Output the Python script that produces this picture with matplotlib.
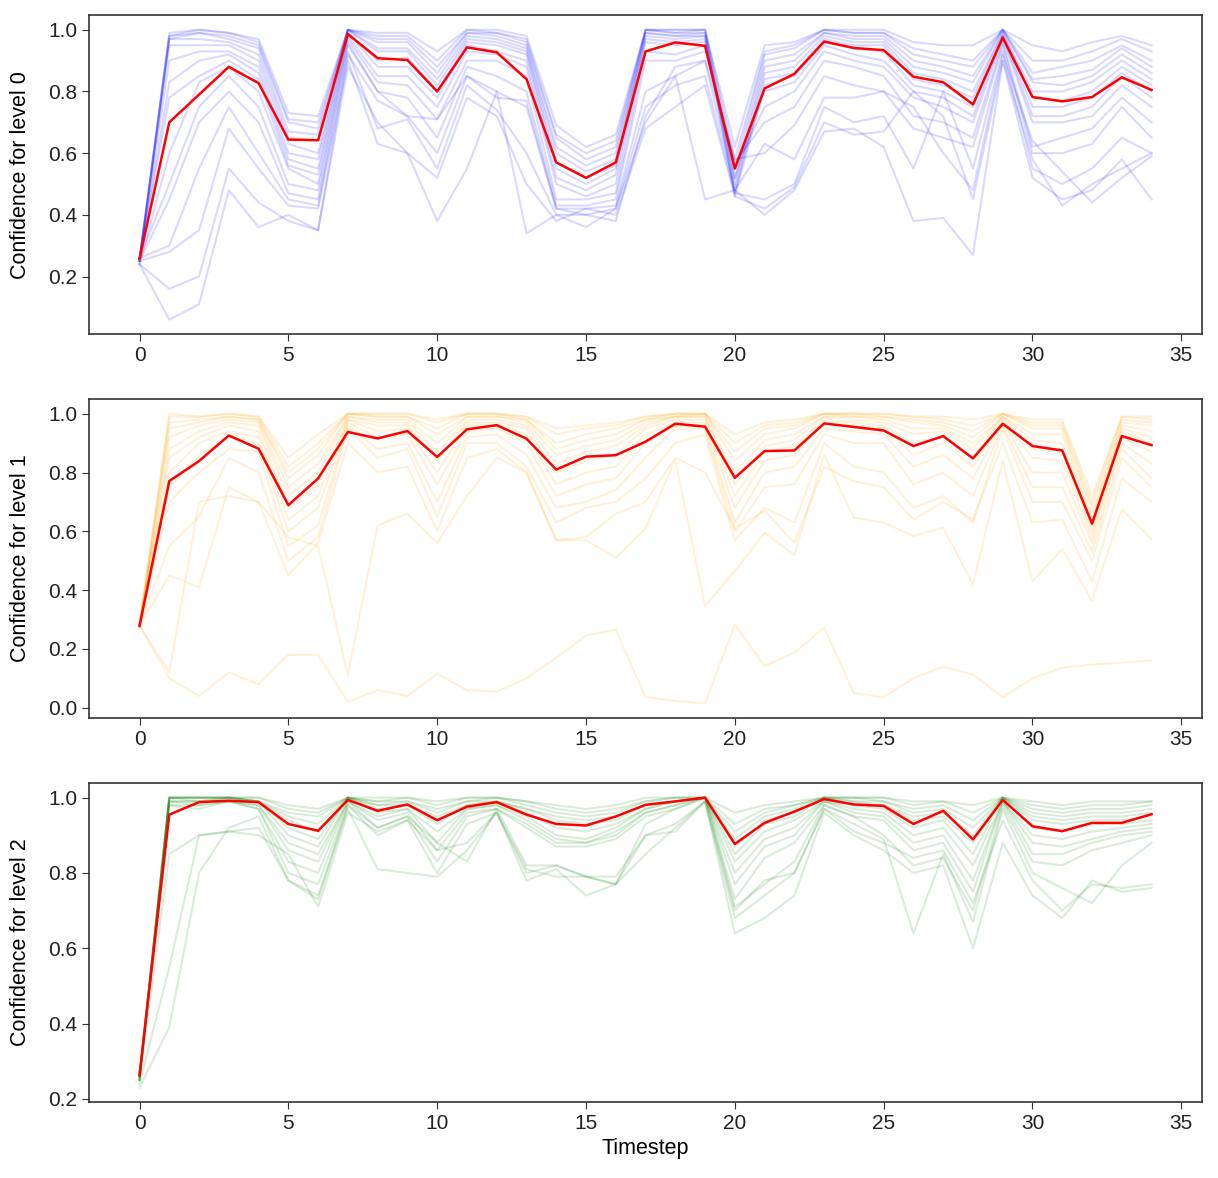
import numpy as np
import matplotlib
matplotlib.use("Agg")
import matplotlib.pyplot as plt

plt.rcParams['font.family'] = ['Liberation Sans', 'DejaVu Sans']
plt.rcParams['font.size'] = 15
plt.rcParams['axes.labelsize'] = 15.5
plt.rcParams['xtick.major.size'] = 5
plt.rcParams['ytick.major.size'] = 5

timesteps = np.arange(35)

# level 0 runs
level0_runs = [
    [0.25,0.99,1.00,0.99,0.97,0.73,0.72,1.00,0.99,0.99,0.93,1.00,1.00,0.98,0.69,0.62,0.66,1.00,1.00,1.00,0.62,0.95,0.96,1.00,1.00,1.00,0.96,0.95,0.95,1.00,0.95,0.93,0.96,0.98,0.95],
    [0.25,0.98,1.00,0.99,0.96,0.71,0.70,1.00,0.98,0.98,0.90,1.00,0.99,0.97,0.66,0.60,0.64,1.00,1.00,1.00,0.58,0.93,0.95,1.00,0.99,0.99,0.94,0.92,0.90,1.00,0.90,0.90,0.93,0.97,0.93],
    [0.26,0.98,0.99,0.98,0.95,0.70,0.68,1.00,0.97,0.97,0.88,0.99,0.99,0.96,0.65,0.58,0.62,1.00,0.99,1.00,0.55,0.92,0.94,1.00,0.99,0.99,0.92,0.90,0.88,1.00,0.86,0.88,0.90,0.95,0.90],
    [0.25,0.97,0.99,0.97,0.94,0.67,0.66,1.00,0.96,0.96,0.86,0.99,0.98,0.95,0.62,0.56,0.60,1.00,0.99,0.99,0.52,0.90,0.92,0.99,0.98,0.98,0.90,0.88,0.85,1.00,0.84,0.85,0.87,0.94,0.88],
    [0.26,0.97,0.97,0.96,0.92,0.65,0.64,1.00,0.94,0.94,0.84,0.98,0.97,0.94,0.60,0.54,0.58,0.99,0.98,0.99,0.50,0.88,0.90,0.99,0.97,0.97,0.88,0.86,0.83,1.00,0.83,0.82,0.85,0.92,0.86],
    [0.25,0.95,0.95,0.95,0.90,0.63,0.60,1.00,0.93,0.93,0.82,0.97,0.96,0.93,0.57,0.52,0.56,0.99,0.98,0.98,0.48,0.86,0.88,0.98,0.96,0.96,0.86,0.84,0.80,0.99,0.80,0.80,0.83,0.90,0.84],
    [0.26,0.90,0.93,0.93,0.88,0.60,0.58,0.99,0.90,0.91,0.80,0.96,0.95,0.92,0.55,0.50,0.55,0.98,0.97,0.98,0.47,0.84,0.86,0.97,0.95,0.95,0.84,0.82,0.78,0.99,0.78,0.77,0.80,0.88,0.82],
    [0.25,0.83,0.90,0.92,0.86,0.58,0.55,0.99,0.88,0.88,0.78,0.95,0.93,0.90,0.52,0.48,0.53,0.97,0.96,0.97,0.46,0.82,0.85,0.96,0.94,0.93,0.82,0.80,0.75,0.98,0.75,0.75,0.78,0.86,0.80],
    [0.26,0.78,0.85,0.90,0.84,0.56,0.53,0.98,0.85,0.85,0.75,0.93,0.92,0.88,0.50,0.46,0.50,0.96,0.95,0.96,0.52,0.80,0.83,0.95,0.92,0.90,0.80,0.78,0.72,0.98,0.72,0.72,0.75,0.85,0.78],
    [0.24,0.60,0.83,0.88,0.80,0.55,0.50,0.97,0.83,0.82,0.71,0.90,0.90,0.85,0.45,0.45,0.47,0.93,0.92,0.95,0.55,0.75,0.80,0.93,0.90,0.88,0.78,0.75,0.70,0.97,0.70,0.70,0.72,0.82,0.75],
    [0.26,0.50,0.75,0.85,0.75,0.50,0.48,0.96,0.80,0.78,0.65,0.88,0.85,0.80,0.43,0.43,0.45,0.90,0.90,0.93,0.57,0.70,0.75,0.90,0.88,0.85,0.72,0.70,0.65,0.96,0.62,0.65,0.68,0.78,0.70],
    [0.25,0.45,0.70,0.80,0.70,0.47,0.45,0.95,0.80,0.72,0.60,0.85,0.80,0.75,0.42,0.42,0.43,0.80,0.85,0.90,0.58,0.60,0.69,0.85,0.82,0.80,0.68,0.65,0.62,0.95,0.60,0.60,0.63,0.75,0.65],
    [0.26,0.30,0.55,0.75,0.60,0.45,0.43,0.93,0.68,0.71,0.55,0.82,0.74,0.60,0.40,0.40,0.42,0.75,0.82,0.85,0.47,0.45,0.50,0.75,0.70,0.72,0.55,0.80,0.55,0.93,0.55,0.50,0.55,0.65,0.60],
    [0.25,0.28,0.35,0.68,0.55,0.43,0.42,0.90,0.63,0.60,0.52,0.78,0.72,0.50,0.38,0.42,0.40,0.68,0.75,0.82,0.46,0.42,0.49,0.70,0.66,0.67,0.80,0.72,0.45,0.90,0.52,0.45,0.48,0.58,0.45],
    [0.24,0.16,0.20,0.55,0.44,0.38,0.35,0.88,0.70,0.60,0.38,0.55,0.80,0.34,0.40,0.36,0.42,0.70,0.85,0.45,0.48,0.40,0.48,0.67,0.68,0.62,0.38,0.39,0.27,0.90,0.58,0.43,0.50,0.55,0.60],
    [0.24,0.06,0.11,0.48,0.36,0.40,0.35,0.92,0.77,0.72,0.71,0.85,0.78,0.77,0.42,0.40,0.38,0.72,0.88,0.90,0.48,0.63,0.58,0.78,0.78,0.80,0.75,0.60,0.48,0.92,0.64,0.54,0.44,0.52,0.59],
]
level0_mean = [0.257,0.70,0.79,0.88,0.827,0.644,0.642,0.986,0.908,0.902,0.80,0.943,0.927,0.84,0.57,0.52,0.57,
               0.93,0.959,0.948,0.55,0.81,0.857,0.962,0.941,0.934,0.848,0.83,0.758,0.975,0.782,0.768,0.782,0.846,0.805]

# level 1 runs
level1_runs = [
    [0.28,1.00,0.99,1.00,0.99,0.85,0.93,1.00,1.00,1.00,0.98,1.00,1.00,0.99,0.95,0.96,0.97,0.99,1.00,1.00,0.93,0.97,0.98,1.00,1.00,1.00,0.99,0.99,0.98,1.00,0.98,0.98,0.72,0.99,0.99],
    [0.28,0.99,0.99,1.00,0.99,0.82,0.90,1.00,1.00,1.00,0.97,1.00,1.00,0.99,0.93,0.95,0.96,0.99,1.00,1.00,0.90,0.96,0.97,1.00,1.00,1.00,0.99,0.98,0.96,1.00,0.97,0.97,0.70,0.99,0.98],
    [0.28,0.97,0.98,0.99,0.98,0.80,0.88,1.00,0.99,0.99,0.95,1.00,1.00,0.98,0.90,0.93,0.95,0.98,1.00,1.00,0.87,0.95,0.96,1.00,1.00,0.99,0.98,0.97,0.94,1.00,0.96,0.96,0.68,0.98,0.97],
    [0.28,0.95,0.97,0.99,0.98,0.78,0.86,1.00,0.99,0.99,0.93,0.99,0.99,0.98,0.88,0.91,0.93,0.98,0.99,1.00,0.84,0.93,0.95,1.00,0.99,0.99,0.97,0.96,0.92,1.00,0.95,0.95,0.66,0.97,0.96],
    [0.28,0.92,0.96,0.98,0.97,0.75,0.83,0.99,0.98,0.98,0.90,0.99,0.99,0.97,0.86,0.89,0.91,0.97,0.99,0.99,0.80,0.91,0.93,0.99,0.99,0.98,0.95,0.95,0.90,0.99,0.93,0.93,0.64,0.96,0.94],
    [0.28,0.88,0.94,0.97,0.96,0.72,0.80,0.99,0.97,0.97,0.87,0.98,0.98,0.96,0.83,0.87,0.89,0.96,0.99,0.99,0.76,0.89,0.91,0.99,0.98,0.97,0.93,0.94,0.88,0.99,0.91,0.90,0.62,0.95,0.92],
    [0.28,0.85,0.92,0.96,0.94,0.68,0.76,0.98,0.96,0.96,0.84,0.97,0.97,0.95,0.80,0.84,0.86,0.95,0.98,0.98,0.72,0.87,0.89,0.98,0.97,0.96,0.90,0.92,0.85,0.99,0.88,0.87,0.60,0.94,0.90],
    [0.28,0.80,0.90,0.94,0.92,0.64,0.72,0.98,0.94,0.95,0.80,0.96,0.96,0.93,0.76,0.80,0.82,0.93,0.97,0.97,0.68,0.84,0.86,0.97,0.96,0.95,0.86,0.90,0.82,0.98,0.85,0.84,0.58,0.92,0.87],
    [0.28,0.75,0.86,0.92,0.90,0.60,0.68,0.97,0.92,0.93,0.76,0.94,0.95,0.90,0.72,0.76,0.78,0.90,0.96,0.96,0.63,0.80,0.82,0.95,0.94,0.93,0.82,0.86,0.78,0.97,0.80,0.80,0.56,0.90,0.83],
    [0.28,0.70,0.80,0.88,0.87,0.55,0.62,0.96,0.88,0.90,0.70,0.92,0.93,0.86,0.68,0.70,0.74,0.85,0.95,0.95,0.60,0.75,0.76,0.93,0.90,0.90,0.76,0.80,0.72,0.96,0.75,0.75,0.53,0.88,0.78],
    [0.28,0.55,0.65,0.85,0.80,0.50,0.58,0.95,0.85,0.88,0.65,0.90,0.90,0.82,0.63,0.68,0.70,0.78,0.90,0.93,0.57,0.68,0.63,0.90,0.82,0.80,0.68,0.72,0.63,0.95,0.70,0.70,0.50,0.85,0.75],
    [0.28,0.45,0.41,0.75,0.70,0.45,0.56,0.90,0.80,0.82,0.60,0.85,0.88,0.80,0.57,0.58,0.66,0.70,0.85,0.80,0.61,0.67,0.56,0.82,0.77,0.75,0.64,0.70,0.64,0.90,0.63,0.64,0.43,0.78,0.70],
    [0.28,0.12,0.70,0.72,0.70,0.58,0.55,0.11,0.62,0.66,0.56,0.72,0.85,0.80,0.57,0.57,0.51,0.61,0.845,0.346,0.465,0.595,0.52,0.86,0.646,0.63,0.584,0.612,0.42,0.84,0.43,0.54,0.363,0.675,0.573],
    [0.28,0.10,0.04,0.12,0.08,0.18,0.18,0.02,0.06,0.04,0.115,0.06,0.055,0.10,0.17,0.245,0.266,0.036,0.023,0.014,0.283,0.142,0.187,0.272,0.05,0.036,0.10,0.14,0.113,0.036,0.10,0.136,0.147,0.153,0.161],
]
level1_mean = [0.278,0.771,0.839,0.926,0.881,0.689,0.78,0.938,0.916,0.941,0.853,0.947,0.961,0.915,0.81,0.854,0.859,
               0.905,0.966,0.956,0.782,0.873,0.875,0.967,0.955,0.943,0.89,0.924,0.848,0.966,0.89,0.875,0.626,0.924,0.893]

# level 2 runs
level2_runs = [
    [0.26,1.00,1.00,1.00,1.00,0.98,0.97,1.00,1.00,1.00,0.99,1.00,1.00,0.99,0.98,0.97,0.98,1.00,1.00,1.00,0.96,0.98,0.99,1.00,1.00,1.00,0.99,0.99,0.98,1.00,0.99,0.98,0.99,0.99,0.99],
    [0.26,1.00,1.00,1.00,1.00,0.97,0.96,1.00,0.99,1.00,0.98,1.00,1.00,0.99,0.97,0.96,0.97,0.99,1.00,1.00,0.93,0.97,0.98,1.00,1.00,1.00,0.98,0.99,0.96,1.00,0.98,0.97,0.98,0.98,0.99],
    [0.25,1.00,1.00,1.00,0.99,0.96,0.95,1.00,0.99,0.99,0.97,0.99,1.00,0.98,0.96,0.95,0.96,0.99,1.00,1.00,0.91,0.96,0.98,1.00,1.00,0.99,0.97,0.98,0.94,1.00,0.97,0.96,0.97,0.97,0.98],
    [0.26,1.00,1.00,1.00,0.99,0.95,0.93,1.00,0.98,0.99,0.96,0.99,0.99,0.97,0.95,0.94,0.95,0.98,0.99,1.00,0.89,0.95,0.97,1.00,0.99,0.99,0.96,0.97,0.92,1.00,0.96,0.95,0.96,0.96,0.97],
    [0.25,1.00,1.00,1.00,0.99,0.94,0.91,1.00,0.98,0.98,0.95,0.98,0.99,0.97,0.94,0.93,0.94,0.98,0.99,1.00,0.87,0.94,0.96,1.00,0.99,0.98,0.95,0.96,0.90,1.00,0.95,0.94,0.95,0.95,0.96],
    [0.26,1.00,0.99,1.00,0.99,0.92,0.89,1.00,0.97,0.98,0.93,0.98,0.99,0.96,0.92,0.91,0.93,0.97,0.99,1.00,0.85,0.93,0.95,1.00,0.98,0.98,0.94,0.95,0.88,1.00,0.94,0.93,0.94,0.94,0.95],
    [0.25,0.99,0.99,1.00,0.99,0.90,0.87,1.00,0.96,0.97,0.91,0.97,0.98,0.95,0.90,0.89,0.92,0.97,0.99,1.00,0.83,0.91,0.94,0.99,0.98,0.97,0.92,0.94,0.85,1.00,0.92,0.91,0.93,0.93,0.94],
    [0.26,0.99,0.99,0.99,0.98,0.88,0.85,0.99,0.95,0.97,0.88,0.97,0.98,0.94,0.89,0.88,0.91,0.96,0.98,1.00,0.80,0.89,0.92,0.99,0.97,0.96,0.90,0.92,0.82,0.99,0.90,0.89,0.91,0.92,0.93],
    [0.25,0.99,0.98,0.99,0.98,0.86,0.83,0.99,0.94,0.96,0.86,0.96,0.97,0.93,0.88,0.88,0.90,0.96,0.98,1.00,0.77,0.87,0.90,0.99,0.96,0.95,0.88,0.90,0.78,0.99,0.88,0.87,0.89,0.91,0.92],
    [0.26,0.98,0.98,0.99,0.97,0.83,0.80,0.99,0.92,0.95,0.83,0.95,0.97,0.92,0.87,0.87,0.89,0.95,0.97,1.00,0.73,0.84,0.88,0.98,0.95,0.94,0.86,0.88,0.75,0.99,0.85,0.85,0.88,0.90,0.91],
    [0.25,0.98,0.97,0.99,0.97,0.80,0.77,0.98,0.90,0.94,0.80,0.93,0.96,0.80,0.82,0.79,0.77,0.93,0.97,1.00,0.71,0.77,0.83,0.98,0.95,0.90,0.82,0.84,0.70,0.98,0.83,0.82,0.86,0.88,0.90],
    [0.25,0.85,0.90,0.91,0.92,0.78,0.74,0.97,0.81,0.80,0.79,0.86,0.96,0.78,0.81,0.74,0.77,0.85,0.92,0.99,0.68,0.74,0.80,0.97,0.93,0.89,0.64,0.85,0.67,0.97,0.80,0.76,0.72,0.82,0.88],
    [0.24,0.55,0.90,0.91,0.90,0.85,0.71,0.96,0.91,0.94,0.86,0.88,0.96,0.81,0.79,0.79,0.77,0.90,0.93,0.99,0.64,0.68,0.74,0.96,0.90,0.86,0.80,0.82,0.60,0.88,0.74,0.68,0.78,0.75,0.76],
    [0.23,0.39,0.80,0.92,0.95,0.78,0.73,0.98,0.92,0.95,0.88,0.83,0.97,0.82,0.82,0.79,0.79,0.90,0.91,0.99,0.70,0.78,0.80,0.97,0.91,0.88,0.84,0.86,0.72,0.94,0.78,0.70,0.77,0.76,0.77],
]
level2_mean = [0.263,0.955,0.988,0.992,0.988,0.93,0.912,0.994,0.965,0.982,0.94,0.976,0.988,0.955,0.93,0.926,0.95,
               0.981,0.99,1.0,0.877,0.933,0.963,0.996,0.982,0.978,0.93,0.965,0.889,0.994,0.924,0.911,0.933,0.933,0.956]

levels = [(level0_runs, level0_mean, 'blue', [0.2, 0.4, 0.6, 0.8, 1.0]),
          (level1_runs, level1_mean, 'orange', [0.0, 0.2, 0.4, 0.6, 0.8, 1.0]),
          (level2_runs, level2_mean, 'green', [0.2, 0.4, 0.6, 0.8, 1.0])]

fig, axes = plt.subplots(3, 1, figsize=(12.18, 11.78), dpi=100)
plt.subplots_adjust(left=0.073, right=0.987, top=0.987, bottom=0.0645, hspace=0.204)

for i, (runs, mean, color, yt) in enumerate(levels):
    ax = axes[i]
    for run in runs:
        ax.plot(timesteps, run, color=color, alpha=0.15, lw=1.5)
    ax.plot(timesteps, mean, color='red', lw=1.8)
    ax.set_ylabel("Confidence for level %d" % i, labelpad=12)
    ax.set_xticks([0, 5, 10, 15, 20, 25, 30, 35])
    ax.set_yticks(yt)
    ax.tick_params(colors='#333333', labelcolor='#222222')
    for s in ax.spines.values():
        s.set_color('#333333')
        s.set_linewidth(1.2)

axes[2].set_xlabel("Timestep")

plt.savefig("out.png")
